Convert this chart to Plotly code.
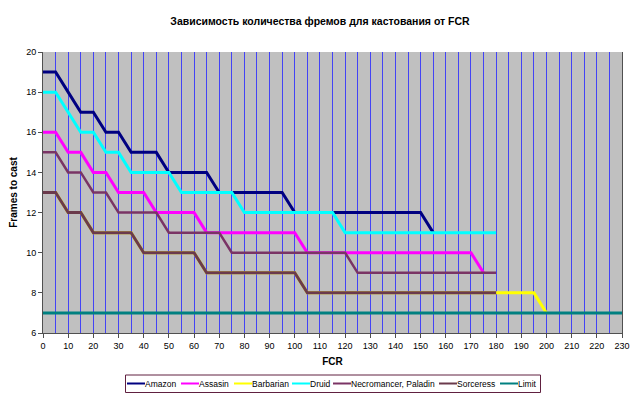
import plotly.graph_objects as go

# FCR values (x axis categories, every 5)
fcr = [0, 5, 10, 15, 20, 25, 30, 35, 40, 45, 50, 55, 60, 65, 70, 75, 80, 85, 90, 95,
       100, 105, 110, 115, 120, 125, 130, 135, 140, 145, 150, 155, 160, 165, 170, 175,
       180, 185, 190, 195, 200, 205, 210, 215, 220, 225, 230]

amazon = [19, 19, 18, 17, 17, 16, 16, 15, 15, 15, 14, 14, 14, 14, 13, 13, 13, 13, 13, 13,
          12, 12, 12, 12, 12, 12, 12, 12, 12, 12, 12, 11]
assasin = [16, 16, 15, 15, 14, 14, 13, 13, 13, 12, 12, 12, 12, 11, 11, 11, 11, 11, 11, 11,
           11, 10, 10, 10, 10, 10, 10, 10, 10, 10, 10, 10, 10, 10, 10, 9]
barbarian = [13, 13, 12, 12, 11, 11, 11, 11, 10, 10, 10, 10, 10, 9, 9, 9, 9, 9, 9, 9,
             9, 8, 8, 8, 8, 8, 8, 8, 8, 8, 8, 8, 8, 8, 8, 8, 8, 8, 8, 8, 7]
druid = [18, 18, 17, 16, 16, 15, 15, 14, 14, 14, 14, 13, 13, 13, 13, 13, 12, 12, 12, 12,
         12, 12, 12, 12, 11, 11, 11, 11, 11, 11, 11, 11, 11, 11, 11, 11, 11]
necro_paladin = [15, 15, 14, 14, 13, 13, 12, 12, 12, 12, 11, 11, 11, 11, 11, 10, 10, 10, 10, 10,
                 10, 10, 10, 10, 10, 9, 9, 9, 9, 9, 9, 9, 9, 9, 9, 9, 9]
sorceress = [13, 13, 12, 12, 11, 11, 11, 11, 10, 10, 10, 10, 10, 9, 9, 9, 9, 9, 9, 9,
             9, 8, 8, 8, 8, 8, 8, 8, 8, 8, 8, 8, 8, 8, 8, 8, 8]
limit_x = [0, 230]
limit = [7, 7]

names = ["Amazon", "Assasin", "Barbarian", "Druid", "Necromancer, Paladin", "Sorceress", "Limit"]
values = [amazon, assasin, barbarian, druid, necro_paladin, sorceress, limit]
colors = ["#000080", "#FF00FF", "#FFFF00", "#00FFFF", "#7a3465", "#6b3a4c", "#008080"]
widths = [3, 3, 3, 3, 2.5, 3, 3]

# The page body adds an 8px offset, so the figure is sized/offset to compensate.
OFF = 8
W, H = 640 - OFF, 399 - OFF
L, R, T, B = 43 - OFF, 18, 52 - OFF, 66
pw, ph = W - L - R, H - T - B


def px_x(p):
    return (p - OFF - L) / pw


def px_y(p):
    return (H - B - (p - OFF)) / ph


fig = go.Figure()
for name, ys, color, w in zip(names, values, colors, widths):
    xs = limit_x if name == "Limit" else fcr[:len(ys)]
    fig.add_trace(go.Scatter(x=xs, y=ys, mode="lines", name=name,
                             line=dict(color=color, width=w), showlegend=False))

# Excel-style legend box below the plot
leg_line_start = [127, 181, 234, 292, 333, 439, 500]
leg_y = 383.5
shapes = [dict(type="rect", xref="paper", yref="paper",
               x0=px_x(125.5), x1=px_x(540.5), y0=px_y(375), y1=px_y(392.5),
               line=dict(color="#602040", width=1), fillcolor="white", layer="above")]
annotations = []
for name, color, w, x0 in zip(names, colors, widths, leg_line_start):
    shapes.append(dict(type="line", xref="paper", yref="paper",
                       x0=px_x(x0), x1=px_x(x0 + 18), y0=px_y(leg_y), y1=px_y(leg_y),
                       line=dict(color=color, width=2), layer="above"))
    annotations.append(dict(text=name, xref="paper", yref="paper",
                            x=px_x(x0 + 17), y=px_y(leg_y), xanchor="left", yanchor="middle",
                            showarrow=False, borderpad=0,
                            font=dict(size=8.5, color="black")))

fig.update_layout(
    width=W, height=H,
    margin=dict(l=L, r=R, t=T, b=B, autoexpand=False),
    paper_bgcolor="white",
    plot_bgcolor="#C0C0C0",
    font=dict(family="Arial, Liberation Sans, sans-serif", size=9, color="black"),
    title=dict(text="<b>Зависимость количества фремов для кастования от FCR</b>",
               x=(320 - OFF) / W, xanchor="center", y=1 - (21 - OFF) / H, yanchor="middle",
               font=dict(size=10.5, color="black")),
    showlegend=False,
    shapes=shapes,
    annotations=annotations,
)

fig.update_xaxes(
    range=[0, 230], dtick=10, tick0=0,
    showgrid=True, gridcolor="#4343f5", gridwidth=1,
    minor=dict(dtick=5, showgrid=True, gridcolor="#4343f5", gridwidth=1),
    showline=True, linecolor="#505050", linewidth=1,
    ticks="outside", ticklen=4, tickcolor="#505050",
    zeroline=False,
    title=dict(text="<b>FCR</b>", font=dict(size=10), standoff=8),
)
fig.update_yaxes(
    range=[6, 20], dtick=2, tick0=6,
    showgrid=False,
    showline=True, linecolor="#505050", linewidth=1, mirror=True,
    ticks="outside", ticklen=4, tickcolor="#505050",
    zeroline=False,
    title=dict(text="<b>Frames to cast</b>", font=dict(size=10), standoff=10),
)

fig.write_html("out.html")
